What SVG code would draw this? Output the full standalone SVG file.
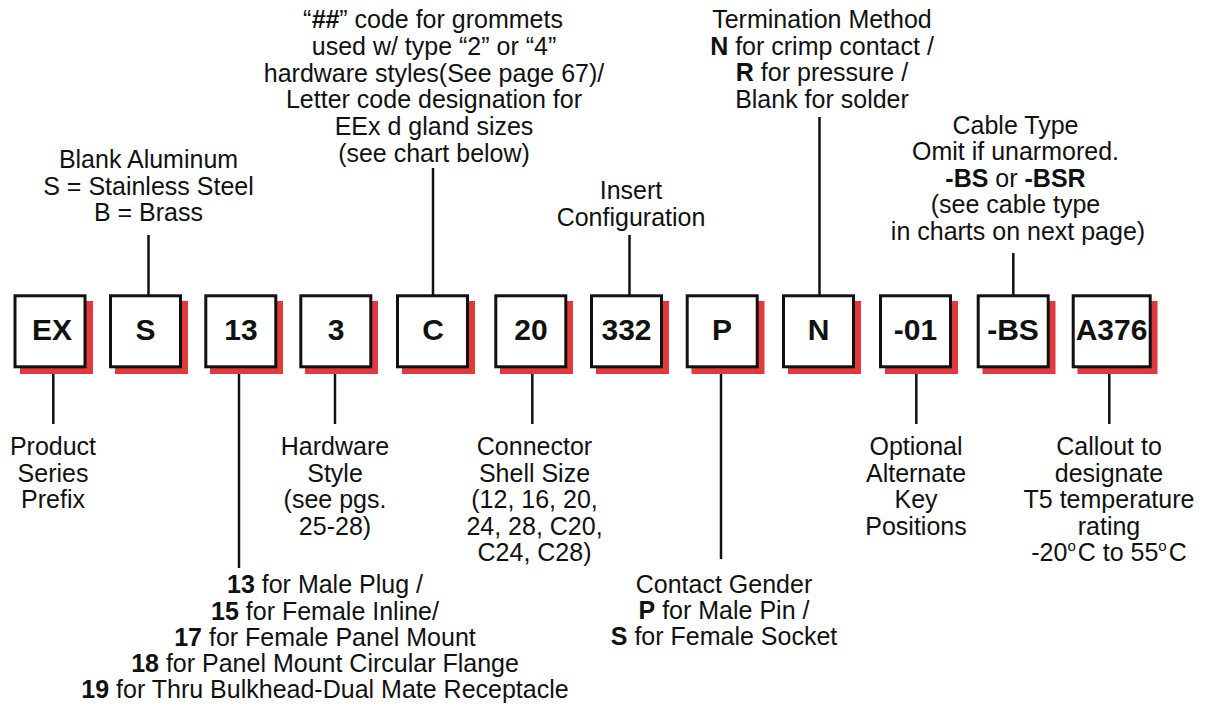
<svg xmlns="http://www.w3.org/2000/svg" width="1207" height="705" viewBox="0 0 1207 705">
<style>
  .shadow { fill: #E13A3E; stroke: none; }
  .box { fill: #ffffff; stroke: #111111; stroke-width: 3; }
  .code { font-family: "Liberation Sans", Arial, Helvetica, sans-serif; font-size: 30px; font-weight: bold; fill: #111111; text-anchor: middle; }
  .lbl { font-family: "Liberation Sans", Arial, Helvetica, sans-serif; font-size: 25px; fill: #111111; text-anchor: middle; }
  .b { font-weight: bold; }
  .bi { font-weight: bold; font-style: italic; }
  .conn line { stroke: #111111; stroke-width: 2.5; }
</style>
<rect x="0" y="0" width="1207" height="705" fill="#ffffff"/>

<g id="connectors" class="conn">
  <line x1="148.5" y1="235" x2="148.5" y2="295"/>
  <line x1="433" y1="168" x2="433" y2="295"/>
  <line x1="629.5" y1="235" x2="629.5" y2="295"/>
  <line x1="819.5" y1="117" x2="819.5" y2="295"/>
  <line x1="1013.3" y1="253" x2="1013.3" y2="295"/>
  <line x1="53.3" y1="368" x2="53.3" y2="424"/>
  <line x1="239" y1="368" x2="239" y2="568"/>
  <line x1="335" y1="368" x2="335" y2="424"/>
  <line x1="532.3" y1="368" x2="532.3" y2="424"/>
  <line x1="721" y1="371" x2="721" y2="559"/>
  <line x1="916.3" y1="368" x2="916.3" y2="424"/>
  <line x1="1109.3" y1="368" x2="1109.3" y2="424"/>
</g>

<g id="box-EX"><rect class="shadow" x="20" y="301" width="73" height="73"/><rect class="box" x="15" y="295.8" width="70" height="71"/><text class="code" x="52" y="340">EX</text></g>
<g id="box-S"><rect class="shadow" x="115" y="301" width="73" height="73"/><rect class="box" x="110.5" y="295.8" width="70" height="71"/><text class="code" x="145.5" y="340">S</text></g>
<g id="box-13"><rect class="shadow" x="210" y="301" width="73" height="73"/><rect class="box" x="205.8" y="295.8" width="70" height="71"/><text class="code" x="241" y="340">13</text></g>
<g id="box-3"><rect class="shadow" x="305" y="301" width="73" height="73"/><rect class="box" x="300.8" y="295.8" width="70" height="71"/><text class="code" x="336" y="340">3</text></g>
<g id="box-C"><rect class="shadow" x="402" y="301" width="73" height="73"/><rect class="box" x="397.5" y="295.8" width="70" height="71"/><text class="code" x="433" y="340">C</text></g>
<g id="box-20"><rect class="shadow" x="500" y="301" width="73" height="73"/><rect class="box" x="495.8" y="295.8" width="70" height="71"/><text class="code" x="531" y="340">20</text></g>
<g id="box-332"><rect class="shadow" x="596" y="301" width="73" height="73"/><rect class="box" x="591.5" y="295.8" width="70" height="71"/><text class="code" x="626.5" y="340">332</text></g>
<g id="box-P"><rect class="shadow" x="691.5" y="301" width="73" height="73"/><rect class="box" x="687.2" y="295.8" width="70" height="71"/><text class="code" x="722" y="340">P</text></g>
<g id="box-N"><rect class="shadow" x="788" y="301" width="73" height="73"/><rect class="box" x="783.5" y="295.8" width="70" height="71"/><text class="code" x="818.5" y="340">N</text></g>
<g id="box-01"><rect class="shadow" x="885" y="301" width="73" height="73"/><rect class="box" x="880.5" y="295.8" width="70" height="71"/><text class="code" x="915.5" y="340">-01</text></g>
<g id="box-BS"><rect class="shadow" x="982.5" y="301" width="73" height="73"/><rect class="box" x="978.2" y="295.8" width="70" height="71"/><text class="code" x="1013" y="340">-BS</text></g>
<g id="box-A376"><rect class="shadow" x="1077.5" y="301" width="80" height="73"/><rect class="box" x="1073.2" y="295.8" width="77" height="71"/><text class="code" x="1111.5" y="340">A376</text></g>

<g id="label-material">
  <text class="lbl" x="148.5" y="168">Blank Aluminum</text>
  <text class="lbl" x="148.5" y="194.5">S = Stainless Steel</text>
  <text class="lbl" x="148.5" y="221">B = Brass</text>
</g>

<g id="label-grommet">
  <text class="lbl" x="433" y="28.3">“<tspan class="bi">##</tspan>” code for grommets</text>
  <text class="lbl" x="434" y="55">used w/ type “2” or “4”</text>
  <text class="lbl" x="434" y="81.7">hardware styles(See page 67)/</text>
  <text class="lbl" x="434" y="108.3">Letter code designation for</text>
  <text class="lbl" x="434" y="135">EEx d gland sizes</text>
  <text class="lbl" x="434" y="161.7">(see chart below)</text>
</g>

<g id="label-insert">
  <text class="lbl" x="631" y="199.3">Insert</text>
  <text class="lbl" x="631" y="225.7">Configuration</text>
</g>

<g id="label-termination">
  <text class="lbl" x="822" y="28.3">Termination Method</text>
  <text class="lbl" x="822" y="54.8"><tspan class="b">N</tspan> for crimp contact /</text>
  <text class="lbl" x="822" y="81.3"><tspan class="b">R</tspan> for pressure /</text>
  <text class="lbl" x="822" y="107.8">Blank for solder</text>
</g>

<g id="label-cable">
  <text class="lbl" x="1015.5" y="133.5">Cable Type</text>
  <text class="lbl" x="1015.5" y="160">Omit if unarmored.</text>
  <text class="lbl" x="1015.5" y="186.5"><tspan class="b">-BS</tspan> or <tspan class="b">-BSR</tspan></text>
  <text class="lbl" x="1015.5" y="213">(see cable type</text>
  <text class="lbl" x="1018" y="239.5">in charts on next page)</text>
</g>

<g id="label-prefix">
  <text class="lbl" x="53" y="455">Product</text>
  <text class="lbl" x="53" y="481.5">Series</text>
  <text class="lbl" x="53" y="508">Prefix</text>
</g>

<g id="label-shell">
  <text class="lbl" x="325" y="593.3"><tspan class="b">13</tspan> for Male Plug /</text>
  <text class="lbl" x="325" y="619.5"><tspan class="b">15</tspan> for Female Inline/</text>
  <text class="lbl" x="325" y="645.8"><tspan class="b">17</tspan> for Female Panel Mount</text>
  <text class="lbl" x="325" y="672"><tspan class="b">18</tspan> for Panel Mount Circular Flange</text>
  <text class="lbl" x="325" y="698"><tspan class="b">19</tspan> for Thru Bulkhead-Dual Mate Receptacle</text>
</g>

<g id="label-hardware">
  <text class="lbl" x="335" y="455">Hardware</text>
  <text class="lbl" x="335" y="481.5">Style</text>
  <text class="lbl" x="335" y="508">(see pgs.</text>
  <text class="lbl" x="335" y="534.5">25-28)</text>
</g>

<g id="label-size">
  <text class="lbl" x="534.5" y="455">Connector</text>
  <text class="lbl" x="534.5" y="481.5">Shell Size</text>
  <text class="lbl" x="534.5" y="508">(12, 16, 20,</text>
  <text class="lbl" x="534.5" y="534.5">24, 28, C20,</text>
  <text class="lbl" x="534.5" y="561">C24, C28)</text>
</g>

<g id="label-gender">
  <text class="lbl" x="724" y="592.7">Contact Gender</text>
  <text class="lbl" x="724" y="619"><tspan class="b">P</tspan> for Male Pin /</text>
  <text class="lbl" x="724" y="645.3"><tspan class="b">S</tspan> for Female Socket</text>
</g>

<g id="label-key">
  <text class="lbl" x="916" y="455">Optional</text>
  <text class="lbl" x="916" y="481.5">Alternate</text>
  <text class="lbl" x="916" y="508">Key</text>
  <text class="lbl" x="916" y="535">Positions</text>
</g>

<g id="label-temp">
  <text class="lbl" x="1109" y="455">Callout to</text>
  <text class="lbl" x="1109" y="481.5">designate</text>
  <text class="lbl" x="1109" y="508">T5 temperature</text>
  <text class="lbl" x="1109" y="534.5">rating</text>
  <text class="lbl" x="1109" y="561">-20<tspan font-size="15" dy="-10">o</tspan><tspan dy="10" dx="2">C to 55</tspan><tspan font-size="15" dy="-10">o</tspan><tspan dy="10" dx="2">C</tspan></text>
</g>
</svg>
